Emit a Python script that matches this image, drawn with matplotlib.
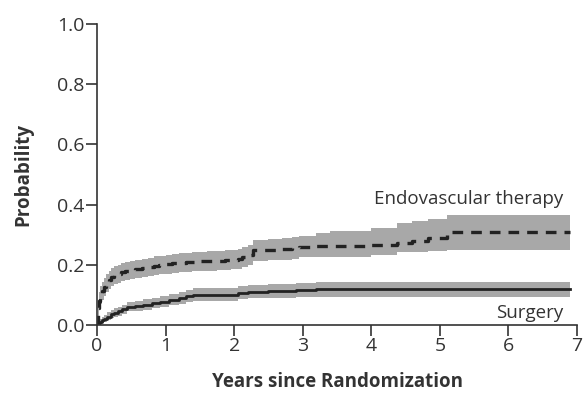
import matplotlib
matplotlib.use("Agg")
import matplotlib.pyplot as plt

# cumulative probability estimates
endo_t = [0, 0.01, 0.02, 0.035, 0.05, 0.07, 0.1, 0.13, 0.17, 0.21, 0.25, 0.3, 0.35, 0.41,
          0.48, 0.55, 0.6, 0.66, 0.75, 0.83, 0.9, 1.0, 1.1, 1.2, 1.3, 1.38, 1.5, 1.6, 1.75,
          1.87, 1.95, 2.05, 2.12, 2.2, 2.27, 2.5, 2.7, 2.85, 2.95, 3.2, 3.4, 4.0, 4.37, 4.6,
          4.83, 5.1, 6.9]
endo_p = [0, 0.03, 0.055, 0.08, 0.10, 0.113, 0.125, 0.138, 0.15, 0.158, 0.165, 0.17, 0.175, 0.18,
          0.183, 0.185, 0.187, 0.19, 0.193, 0.197, 0.20, 0.202, 0.205, 0.207, 0.208, 0.21, 0.211, 0.212, 0.214,
          0.215, 0.217, 0.22, 0.226, 0.233, 0.248, 0.25, 0.252, 0.255, 0.26, 0.262, 0.263, 0.266, 0.273, 0.28,
          0.29, 0.31, 0.31]
endo_lo = [0, 0.01, 0.03, 0.05, 0.07, 0.083, 0.095, 0.108, 0.12, 0.128, 0.135, 0.14, 0.145, 0.15,
           0.153, 0.155, 0.157, 0.16, 0.163, 0.166, 0.168, 0.17, 0.173, 0.175, 0.176, 0.178, 0.179, 0.18, 0.182,
           0.183, 0.185, 0.187, 0.193, 0.2, 0.213, 0.215, 0.217, 0.22, 0.225, 0.226, 0.227, 0.233, 0.241, 0.244,
           0.247, 0.25, 0.25]
endo_hi = [0, 0.05, 0.08, 0.11, 0.13, 0.143, 0.155, 0.168, 0.18, 0.188, 0.195, 0.2, 0.205, 0.21,
           0.213, 0.215, 0.217, 0.22, 0.224, 0.228, 0.23, 0.233, 0.236, 0.238, 0.24, 0.242, 0.243, 0.245, 0.247,
           0.248, 0.25, 0.253, 0.259, 0.266, 0.283, 0.285, 0.288, 0.292, 0.297, 0.305, 0.311, 0.323, 0.34, 0.346,
           0.353, 0.366, 0.366]

surg_t = [0, 0.03, 0.05, 0.08, 0.1, 0.15, 0.2, 0.25, 0.3, 0.37, 0.44, 0.55, 0.67, 0.8, 0.92,
          1.05, 1.2, 1.3, 1.4, 1.6, 1.9, 2.05, 2.2, 2.5, 2.9, 3.2, 6.9]
surg_p = [0, 0.006, 0.01, 0.016, 0.02, 0.028, 0.035, 0.04, 0.045, 0.053, 0.06, 0.064, 0.067, 0.072, 0.078,
          0.084, 0.09, 0.095, 0.1, 0.1, 0.1, 0.105, 0.11, 0.112, 0.117, 0.12, 0.12]
surg_lo = [0, 0.0, 0.002, 0.006, 0.01, 0.016, 0.022, 0.026, 0.03, 0.038, 0.045, 0.048, 0.05, 0.055, 0.06,
           0.065, 0.07, 0.075, 0.08, 0.08, 0.08, 0.085, 0.089, 0.09, 0.092, 0.094, 0.094]
surg_hi = [0, 0.014, 0.02, 0.027, 0.032, 0.042, 0.05, 0.055, 0.06, 0.068, 0.076, 0.081, 0.085, 0.09, 0.097,
           0.104, 0.11, 0.116, 0.122, 0.122, 0.122, 0.128, 0.133, 0.135, 0.14, 0.142, 0.142]

xticks = [0, 1, 2, 3, 4, 5, 6, 7]
yticks = [0.0, 0.2, 0.4, 0.6, 0.8, 1.0]

plt.rcParams['font.family'] = ['Open Sans', 'DejaVu Sans']
text_col = "#333333"
band_col = "#a8a8a8"
line_col = "#222222"

fig = plt.figure(figsize=(5.83, 3.96), dpi=100)
ax = fig.add_axes([0.1664, 0.1793, 0.8233, 0.7601])

ax.fill_between(endo_t, endo_lo, endo_hi, step="post", color=band_col, lw=0)
ax.fill_between(surg_t, surg_lo, surg_hi, step="post", color=band_col, lw=0)
ax.step(endo_t, endo_p, where="post", color=line_col, lw=2.4, dashes=(3.2, 2.4))
ax.step(surg_t, surg_p, where="post", color=line_col, lw=2.0)

ax.set_xlim(0, 7)
ax.set_ylim(0, 1.0)
ax.set_xticks(xticks)
ax.set_xticklabels([str(x) for x in xticks])
ax.set_yticks(yticks)
ax.set_yticklabels([f"{y:.1f}" for y in yticks])

for side in ["top", "right"]:
  ax.spines[side].set_visible(False)
for side in ["left", "bottom"]:
  ax.spines[side].set_color(text_col)
  ax.spines[side].set_linewidth(1.2)
ax.tick_params(colors=text_col, labelcolor=text_col, labelsize=14,
               length=8, width=1.2, direction="out", pad=1)

ax.set_xlabel("Years since Randomization", fontsize=13.5, fontweight="bold",
              color=text_col, labelpad=12)
ax.set_ylabel("Probability", fontsize=13.5, fontweight="bold", color=text_col, labelpad=17)

ax.text(6.8, 0.417, "Endovascular therapy", ha="right", va="center",
        fontsize=13.5, color=text_col)
ax.text(6.8, 0.04, "Surgery", ha="right", va="center", fontsize=13.5, color=text_col)

fig.savefig("out.png", dpi=100)
